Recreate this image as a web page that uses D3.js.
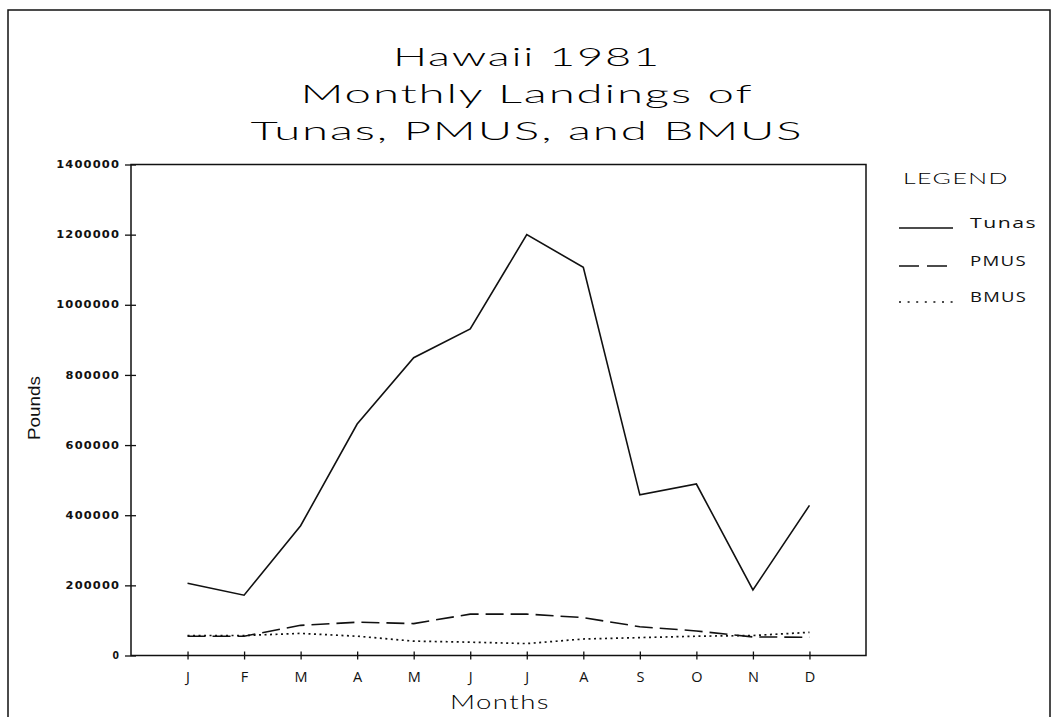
<!DOCTYPE html>
<html>
<head>
<meta charset="utf-8">
<script src="https://cdn.jsdelivr.net/npm/d3@7"></script>
<style>
  html, body { margin: 0; padding: 0; background: #fff; }
  svg { display: block; }
  .thin { font-family: "Lato", "Open Sans", "DejaVu Sans", sans-serif; font-weight: 300; fill: #000; }
</style>
</head>
<body>
<svg id="chart" width="1053" height="717"></svg>
<script>
// Monthly landings (pounds), Hawaii 1981
const months = ["J", "F", "M", "A", "M", "J", "J", "A", "S", "O", "N", "D"];
const tunas = [206000, 172000, 370000, 660000, 849000, 931000, 1200000, 1107000, 458000, 489000, 187000, 428000];
const pmus  = [55000, 55000, 86000, 95000, 91000, 118000, 118000, 108000, 82000, 70000, 53000, 52000];
const bmus  = [57000, 57000, 63000, 55000, 41000, 38000, 34000, 47000, 51000, 55000, 57000, 66000];
const yTicks = [0, 200000, 400000, 600000, 800000, 1000000, 1200000, 1400000];
const titleLines = ["Hawaii 1981", "Monthly Landings of", "Tunas, PMUS, and BMUS"];
const seriesNames = ["Tunas", "PMUS", "BMUS"];

const svg = d3.select("#chart");
const L = 131, R = 866, T = 164.5, B = 655.5;

const x = d3.scaleLinear().domain([0, 13]).range([L, R]);
const y = d3.scaleLinear().domain([0, 1400000]).range([B, T]);

// outer page frame
svg.append("rect")
  .attr("x", 8).attr("y", 10).attr("width", 1042).attr("height", 740)
  .attr("fill", "none").attr("stroke", "#111").attr("stroke-width", 1.5);

// title
const titleY = [66, 103, 140];
const titleW = [268, 453, 553];
svg.selectAll("text.title").data(titleLines).join("text")
  .attr("class", "title thin")
  .attr("x", 527).attr("y", (d, i) => titleY[i])
  .attr("text-anchor", "middle")
  .attr("font-size", 25.5)
  .attr("letter-spacing", 1)
  .attr("textLength", (d, i) => titleW[i])
  .attr("lengthAdjust", "spacingAndGlyphs")
  .text(d => d);

// plot frame
svg.append("rect")
  .attr("x", L).attr("y", T).attr("width", R - L).attr("height", B - T)
  .attr("fill", "none").attr("stroke", "#111").attr("stroke-width", 1.5);

// y axis
const yAxis = svg.append("g").attr("transform", `translate(${L},0)`)
  .call(d3.axisLeft(y).tickValues(yTicks).tickSize(0).tickPadding(11).tickFormat(d3.format("d")));
yAxis.select(".domain").remove();
yAxis.selectAll(".tick text")
  .attr("font-family", "DejaVu Sans, sans-serif")
  .attr("font-weight", "bold")
  .attr("font-size", 10)
  .attr("letter-spacing", 1)
  .attr("fill", "#111")
  .attr("textLength", function() { return this.textContent.length * 9.4 - 2; })
  .attr("lengthAdjust", "spacingAndGlyphs");
yAxis.selectAll(".tick").append("line")
  .attr("x1", -6).attr("x2", 5).attr("stroke", "#111").attr("stroke-width", 1.3);

// x axis
const xAxis = svg.append("g").attr("transform", `translate(0,${B})`)
  .call(d3.axisBottom(x).tickValues(d3.range(1, 13)).tickSize(0).tickPadding(16)
    .tickFormat(d => months[d - 1]));
xAxis.select(".domain").remove();
xAxis.selectAll(".tick text")
  .attr("font-family", "Open Sans, DejaVu Sans, sans-serif")
  .attr("font-size", 14.5)
  .attr("fill", "#111");
xAxis.selectAll(".tick").append("line")
  .attr("y1", -4).attr("y2", 4).attr("stroke", "#111").attr("stroke-width", 1.3);

// axis titles
svg.append("text").attr("class", "thin")
  .attr("x", 500).attr("y", 709).attr("text-anchor", "middle")
  .attr("font-size", 19).attr("letter-spacing", 1)
  .attr("textLength", 100).attr("lengthAdjust", "spacingAndGlyphs")
  .text("Months");
svg.append("text")
  .attr("transform", "translate(40,408) rotate(-90)")
  .attr("text-anchor", "middle")
  .attr("font-family", "Liberation Sans Narrow, Liberation Sans, sans-serif")
  .attr("font-size", 17).attr("fill", "#111")
  .attr("textLength", 64).attr("lengthAdjust", "spacingAndGlyphs")
  .text("Pounds");

// series lines
const styles = [
  { data: tunas, dash: null, legDash: null, w: 1.6 },
  { data: pmus, dash: "18,7", legDash: "20,8", w: 1.6 },
  { data: bmus, dash: "2,3.5", legDash: "2,6.6", w: 1.7 }
];
const line = d3.line().x((d, i) => x(i + 1)).y(d => y(d));
styles.forEach(s => {
  svg.append("path")
    .attr("d", line(s.data))
    .attr("fill", "none")
    .attr("stroke", "#111")
    .attr("stroke-width", s.w)
    .attr("stroke-dasharray", s.dash);
});

// legend
svg.append("text").attr("class", "thin")
  .attr("x", 903).attr("y", 184).attr("font-size", 16.5).attr("letter-spacing", 1)
  .attr("textLength", 106).attr("lengthAdjust", "spacingAndGlyphs")
  .text("LEGEND");
const legY = [228, 266, 302];
const legTextW = [67, 57, 57];
seriesNames.forEach((name, i) => {
  svg.append("line")
    .attr("x1", 899).attr("x2", 953).attr("y1", legY[i]).attr("y2", legY[i])
    .attr("stroke", "#111").attr("stroke-width", 1.5)
    .attr("stroke-dasharray", styles[i].legDash);
  svg.append("text")
    .attr("x", 970).attr("y", legY[i])
    .attr("font-family", "Open Sans, DejaVu Sans, sans-serif")
    .attr("font-size", 14.5).attr("letter-spacing", 1).attr("fill", "#111")
    .attr("textLength", legTextW[i]).attr("lengthAdjust", "spacingAndGlyphs")
    .text(name);
});
</script>
</body>
</html>
